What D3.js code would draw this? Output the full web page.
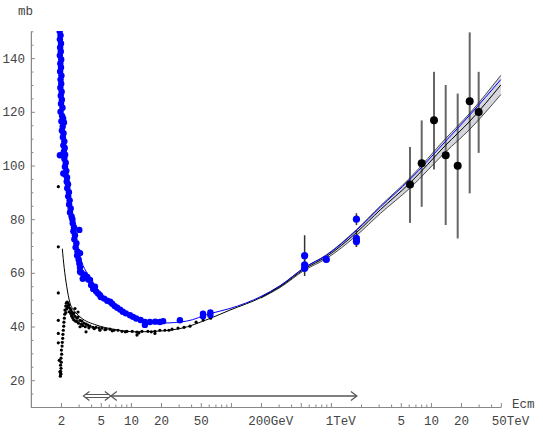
<!DOCTYPE html>
<html>
<head>
<meta charset="utf-8">
<script src="https://cdn.jsdelivr.net/npm/d3@7/dist/d3.min.js"></script>
<style>
  body { margin: 0; background: #fff; }
  text { font-family: "Liberation Mono", "DejaVu Sans Mono", monospace; font-size: 12.5px; fill: #444; }
</style>
</head>
<body>
<svg id="chart" width="543" height="434"></svg>
<script>
// energies in GeV (sqrt s), cross sections in mb

// pbar-p total cross section, low energy data
const ppbarLow = [
	[1.94,150],[1.98,148.5],[1.95,147],[2.0,145.5],[1.96,144],[1.99,142.5],[1.95,141],[2.01,139.5],
	[1.97,138],[2.0,136.5],[1.96,135],[2.02,133.5],[1.98,132],[2.01,130.5],[1.97,129],[2.03,127.5],
	[1.99,126],[2.04,124.5],[2.0,123],[2.07,121.5],[1.98,120],[2.05,118.5],[2.1,117.5],[2.02,116.5],
	[2.14,116],[2.08,114.5],[2.04,113],[2.12,112],[2.09,110.5],[2.16,109],[2.11,107.5],[2.18,106.5],
	[2.13,105],[1.95,103.8],[2.2,104],[2.16,102.5],[2.23,101],[2.19,99.5],[2.26,98],[2.11,97],
	[2.22,96.5],[2.3,95.5],[2.28,94],[2.35,93],[2.31,91.5],[2.4,90],[2.36,88.5],[2.44,87],
	[2.41,85.5],[2.5,84],[2.46,82.5],[2.55,81],[2.6,80],[2.62,78.5],[2.7,77],[2.66,75.5],
	[3.05,76],[2.76,74],[2.72,72.5],[2.85,71],[2.8,69.5],[2.92,68],[3.1,67.3],[2.9,66.5],
	[3.0,65],[3.05,63.5],[3.1,62],[3.1,60.4],[3.2,60],[3.45,59.3],[3.66,58.5],[3.3,57.8],
	[3.75,57.5],[3.9,57.3],[4.37,54.8],[4.0,55.5],[4.2,54],[4.5,53],[4.91,51.7],[4.7,52.3],
	[5.0,51],[5.4,50.4],[5.8,49.6],[6.2,49.2],[6.5,48.5],[6.9,47.6],[7.3,47],[7.8,46.3],
	[8.3,45.5],[8.9,44.9],[9.8,44.2],[10.5,43.6],[11.3,43.0],[12.5,42.4],[13.8,41.7],[13.8,40.6],
	[15.5,41.7],[17.5,41.8],[19.5,41.7],[21,42.0],[30.9,42.3],[52.6,43.8],[52.6,44.8],[62.3,44.3],
	[62.3,45.2]
];

// p-p total cross section, low energy data
const ppLow = [
	[1.88,92.1],[1.88,69.7],[1.88,52.5],[1.88,42.3],[1.88,37.4],[1.88,33.9],[1.92,27.4],[1.95,23.1],
	[1.99,22.5],[1.97,21.5],[1.99,22.2],[1.98,23.3],[2.0,24.4],[1.98,25.6],[2.01,26.7],[2.0,28.2],
	[2.03,29.7],[2.02,31.2],[2.05,32.7],[2.06,34.1],[2.08,35.6],[2.09,37.1],[2.11,38.6],[2.13,40.1],
	[2.14,41.6],[2.16,43.1],[2.18,44.6],[2.19,46.1],[2.23,47.6],[2.26,48.7],[2.30,49.1],[2.35,48.7],
	[2.37,47.6],[2.40,47.9],[2.46,46.8],[2.52,46.1],[2.58,45.3],[2.64,44.6],[2.70,45.0],[2.76,43.8],
	[2.89,43.1],[2.96,43.5],[3.10,42.3],[3.24,42.0],[3.40,41.2],[3.56,40.9],[3.72,40.5],[3.90,40.1],
	[4.18,39.7],[4.48,39.7],[4.80,39.4],[5.14,39.4],[5.64,39.0],[6.18,39.0],[6.78,38.6],[7.43,38.6],
	[8.15,38.2],[9.14,38.2],[10.3,38.2],[11.5,37.9],[12.9,38.2],[14.8,38.2],[17.4,38.2],[19.5,38.6],
	[21.9,38.6],[25.8,39.0],[29.6,39.4],[34.0,39.7],[39.0,40.1],[44.9,41.6],[52.8,42.4],[62.7,43.1],
	[2.76,46.7],[2.96,45.4],[3.56,38.0],[3.10,39.9],[4.9,38.6],[11.5,36.8],[17.4,37.4],
	[2.24,45.2],[2.28,46.5],[2.33,47.2],[2.42,45.5],[2.5,44.8],[2.55,43.9],[2.62,43.2],[2.68,42.5],
	[2.8,42.0],[2.9,41.8],[3.0,41.2],[3.2,40.8],[3.3,40.3],[3.5,39.9],[3.8,39.5],[4.3,39.2],
	[5.5,38.8],[6.5,38.4],[8.8,38.0],[12,37.6],[16,38.0],[24,38.6]
];

// collider pbar-p points: energy, sigma, error
const ppbarCollider = [
	[546, 66.4, 7.6], [546, 63.0, 2.1], [546, 61.7, 1.5],
	[900, 65.0, 1.2],
	[1800, 80.0, 2.2], [1800, 72.8, 3.1], [1800, 71.7, 2.0]
];

// cosmic ray points: energy, sigma, low, high
const cosmic = [
	[6180, 92.9, 78.6, 106.9], [8090, 100.8, 84.6, 116.8], [10740, 116.9, 98.5, 134.9],
	[14060, 103.8, 77.8, 130.0], [18530, 99.9, 72.8, 126.8], [24430, 123.9, 89.6, 149.6],
	[30040, 119.9, 104.7, 134.9]
];

// fits
const ppbarFit = [
	[2.06,104],[2.28,94.5],[2.6,79],[3.1,66],[4.06,57.3],[5.3,51],[8.4,45.4],[13.3,42.3],
	[21,41.3],[36,42.0],[61.7,44.8],[97.7,46.7],[200,51.2],[310,55.2],[546,62.0],[900,66.5],
	[1800,75.8],[3120,84.5],[6180,94.8],[14000,109],[24500,118.8],[50000,132.0]
];
const ppFit = [
	[2.06,69],[2.15,62],[2.28,55],[2.45,49],[2.7,46],[3.1,43.6],[4.55,40.5],[6.67,39.0],
	[11.4,38.0],[21.1,38.4],[30.9,39.2],[61.7,43.0],[97.7,46.1],[200,50.8],[310,54.8],
	[546,61.5],[900,66],[1800,75],[3120,83.5],[6180,93.5],[14000,107.5],[24500,116.5],[50000,130]
];
// error band of the fit: energy, low, high
const fitBand = [
	[200,50.6,51.0],[310,54.5,55.1],[546,61.0,62.0],[900,65.3,66.7],[1800,73.9,76.1],
	[3120,82.1,84.9],[6180,91.6,95.4],[14000,105.0,110.0],[24500,113.5,119.5],[50000,126.4,133.6]
];

// fitted energy ranges
const fitRanges = [[3.35, 6.3], [6.3, 1820]];

const xMinorTicks = [3,4,6,7,8,9,30,40,60,70,80,90,300,400,600,700,800,900,2000,3000,4000,6000,7000,8000,9000,30000,40000];
const xMajorTicks = [2,5,10,20,50,100,200,500,1000,5000,10000,20000,50000];
const xTickLabels = { 2:'2', 5:'5', 10:'10', 20:'20', 50:'50', 200:'200GeV', 1000:'1TeV', 5000:'5', 10000:'10', 20000:'20', 50000:'50TeV' };
const yMajorTicks = [20,40,60,80,100,120,140];
const yMinorTicks = d3.range(10, 151, 5).filter(v => v % 20 !== 0);

const svg = d3.select('#chart');
const x = d3.scaleLog().domain([1, 50000]).range([30.9, 500.8]);
const y = d3.scaleLinear().domain([10, 150]).range([407, 31.3]);
const fs = 12.5, charW = fs * 0.6;

svg.append('defs').append('clipPath').attr('id', 'plot')
	.append('rect').attr('x', 31).attr('y', 31).attr('width', 512).attr('height', 376);

// axes
const axisColor = '#888';
function styleAxis(g) {
	g.select('.domain').attr('stroke', axisColor);
	g.selectAll('.tick line').attr('stroke', axisColor);
}

svg.append('g').attr('transform', 'translate(0,407)')
	.call(d3.axisBottom(x).tickValues(xMinorTicks).tickSize(-2.5).tickSizeOuter(0).tickFormat(''))
	.call(styleAxis);

svg.append('g').attr('transform', 'translate(0,407)')
	.call(d3.axisBottom(x).tickValues(xMajorTicks).tickSize(-4).tickSizeOuter(0).tickPadding(9)
		.tickFormat(d => xTickLabels[d] || ''))
	.call(styleAxis)
	.call(g => g.selectAll('text')
		.attr('font-family', null).attr('font-size', null).attr('fill', null)
		.each(function(d) {
			const t = xTickLabels[d];
			if (!t) return;
			const num = t.match(/^\d+/)[0];
			if (num.length < t.length) {
				d3.select(this).attr('text-anchor', 'start').attr('x', -num.length * charW / 2 - 2);
			}
		}));

svg.append('g').attr('transform', 'translate(30.9,0)')
	.call(d3.axisLeft(y).tickValues(yMinorTicks).tickSize(-2.5).tickSizeOuter(0).tickFormat(''))
	.call(styleAxis);

svg.append('g').attr('transform', 'translate(30.9,0)')
	.call(d3.axisLeft(y).tickValues(yMajorTicks).tickSize(-4).tickSizeOuter(0).tickPadding(6))
	.call(styleAxis)
	.call(g => g.selectAll('text').attr('font-family', null).attr('font-size', null).attr('fill', null));

svg.append('text').attr('x', 18).attr('y', 15).text('mb');
svg.append('text').attr('x', 512).attr('y', 408).text('Ecm');

// plot layer
const plot = svg.append('g').attr('clip-path', 'url(#plot)');

// fit band
plot.append('path').datum(fitBand)
	.attr('fill', '#d6d6de')
	.attr('d', d3.area().x(d => x(d[0])).y0(d => y(d[1])).y1(d => y(d[2])).curve(d3.curveMonotoneX));

// cosmic ray error bars
plot.selectAll('.cbar').data(cosmic).join('line')
	.attr('x1', d => x(d[0])).attr('x2', d => x(d[0]))
	.attr('y1', d => y(d[2])).attr('y2', d => y(d[3]))
	.attr('stroke', '#666').attr('stroke-width', 2);

// collider error bars
plot.selectAll('.pbar').data(ppbarCollider).join('line')
	.attr('x1', d => x(d[0])).attr('x2', d => x(d[0]))
	.attr('y1', d => y(d[1] - d[2])).attr('y2', d => y(d[1] + d[2]))
	.attr('stroke', '#333').attr('stroke-width', 1.5);

// band edges
const bandLine = (i) => d3.line().x(d => x(d[0])).y(d => y(d[i])).curve(d3.curveMonotoneX);
[1, 2].forEach(i => {
	plot.append('path').datum(fitBand).attr('fill', 'none')
		.attr('stroke', '#222').attr('stroke-width', 0.8).attr('d', bandLine(i));
});

// fits
const fitLine = d3.line().x(d => x(d[0])).y(d => y(d[1])).curve(d3.curveMonotoneX);
plot.append('path').datum(ppbarFit).attr('fill', 'none')
	.attr('stroke', '#0000ff').attr('stroke-width', 1).attr('d', fitLine);
plot.append('path').datum(ppFit).attr('fill', 'none')
	.attr('stroke', '#000').attr('stroke-width', 1).attr('d', fitLine);

// data points
plot.selectAll('.pp').data(ppLow).join('circle')
	.attr('cx', d => x(d[0])).attr('cy', d => y(d[1])).attr('r', 1.6).attr('fill', '#000');

plot.selectAll('.pbl').data(ppbarLow).join('circle')
	.attr('cx', d => x(d[0])).attr('cy', d => y(d[1])).attr('r', 3.2).attr('fill', '#0000ff');

plot.selectAll('.pbc').data(ppbarCollider).join('circle')
	.attr('cx', d => x(d[0])).attr('cy', d => y(d[1])).attr('r', 3.6).attr('fill', '#0000ff');

plot.selectAll('.cos').data(cosmic).join('circle')
	.attr('cx', d => x(d[0])).attr('cy', d => y(d[1])).attr('r', 4).attr('fill', '#000');

// fit range arrows
const ay = 396;
const arrowColor = '#555';
function head(g, px, dir) {
	g.append('path')
		.attr('d', `M${px + dir * 6},${ay - 4.5} L${px},${ay} L${px + dir * 6},${ay + 4.5}`)
		.attr('fill', 'none').attr('stroke', arrowColor).attr('stroke-width', 1.2);
}
const arrows = svg.append('g');
fitRanges.forEach((r, i) => {
	const x0 = x(r[0]), x1 = x(r[1]);
	if (i === 0) {
		[-1.5, 1.5].forEach(o => arrows.append('line')
			.attr('x1', x0 + 2).attr('x2', x1 - 2).attr('y1', ay + o).attr('y2', ay + o)
			.attr('stroke', arrowColor).attr('stroke-width', 1));
	} else {
		arrows.append('line').attr('x1', x0).attr('x2', x1).attr('y1', ay).attr('y2', ay)
			.attr('stroke', arrowColor).attr('stroke-width', 1.6);
	}
	head(arrows, x0, 1);
	head(arrows, x1, -1);
});
</script>
</body>
</html>
